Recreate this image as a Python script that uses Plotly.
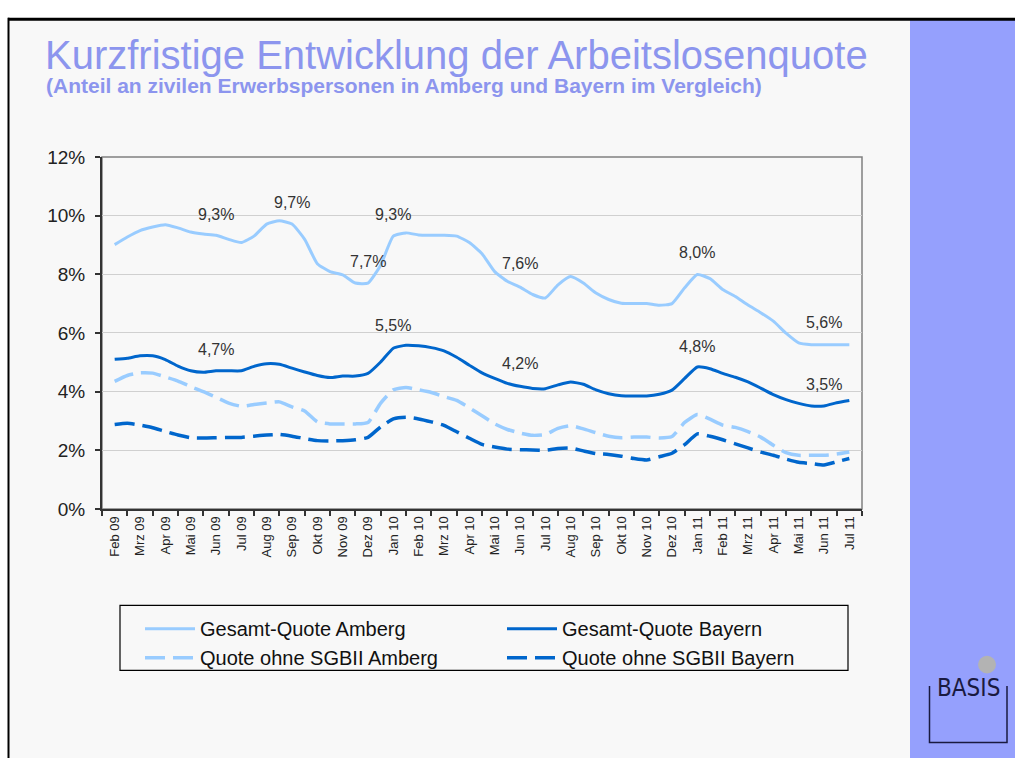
import plotly.graph_objects as go

# ---------------- data ----------------
months = ["Feb 09", "Mrz 09", "Apr 09", "Mai 09", "Jun 09", "Jul 09", "Aug 09", "Sep 09",
          "Okt 09", "Nov 09", "Dez 09", "Jan 10", "Feb 10", "Mrz 10", "Apr 10", "Mai 10",
          "Jun 10", "Jul 10", "Aug 10", "Sep 10", "Okt 10", "Nov 10", "Dez 10", "Jan 11",
          "Feb 11", "Mrz 11", "Apr 11", "Mai 11", "Jun 11", "Jul 11"]

# values at half-month steps (Feb 09 ... Jul 11)
gesamt_amberg = [9.01, 9.27, 9.49, 9.61, 9.69, 9.58, 9.44, 9.37, 9.33, 9.19, 9.08, 9.30, 9.71, 9.82, 9.71,
                 9.19, 8.36, 8.09, 7.98, 7.70, 7.70, 8.31, 9.30, 9.41, 9.34, 9.33, 9.33, 9.30, 9.08, 8.70,
                 8.09, 7.76, 7.56, 7.31, 7.19, 7.64, 7.92, 7.70, 7.36, 7.14, 7.01, 7.00, 7.00, 6.94, 7.00,
                 7.54, 7.99, 7.85, 7.48, 7.24, 6.95, 6.69, 6.40, 5.99, 5.66, 5.60, 5.60, 5.60, 5.60]
gesamt_bayern = [5.10, 5.14, 5.22, 5.22, 5.09, 4.87, 4.71, 4.66, 4.71, 4.71, 4.71, 4.86, 4.95, 4.93, 4.80,
                 4.67, 4.55, 4.48, 4.53, 4.53, 4.62, 5.01, 5.48, 5.58, 5.56, 5.50, 5.39, 5.17, 4.90, 4.64,
                 4.45, 4.28, 4.18, 4.11, 4.10, 4.23, 4.33, 4.25, 4.06, 3.93, 3.86, 3.85, 3.85, 3.91, 4.05,
                 4.45, 4.84, 4.78, 4.62, 4.49, 4.33, 4.12, 3.90, 3.73, 3.60, 3.51, 3.51, 3.62, 3.70]
ohne_amberg = [4.35, 4.55, 4.64, 4.63, 4.50, 4.36, 4.17, 4.00, 3.81, 3.61, 3.50, 3.56, 3.61, 3.65, 3.48,
               3.34, 2.97, 2.90, 2.90, 2.90, 2.95, 3.61, 4.06, 4.14, 4.06, 3.97, 3.83, 3.70, 3.45, 3.18,
               2.90, 2.71, 2.59, 2.51, 2.54, 2.75, 2.84, 2.73, 2.60, 2.48, 2.43, 2.45, 2.45, 2.42, 2.47,
               2.95, 3.22, 3.06, 2.86, 2.78, 2.64, 2.45, 2.17, 1.92, 1.83, 1.83, 1.83, 1.87, 1.94]
ohne_bayern = [2.88, 2.92, 2.86, 2.77, 2.64, 2.52, 2.43, 2.42, 2.43, 2.44, 2.44, 2.48, 2.52, 2.54, 2.48,
               2.40, 2.33, 2.32, 2.33, 2.36, 2.44, 2.80, 3.07, 3.13, 3.07, 2.97, 2.85, 2.63, 2.41, 2.20,
               2.11, 2.04, 2.02, 2.01, 2.00, 2.06, 2.08, 1.98, 1.89, 1.86, 1.80, 1.72, 1.67, 1.78, 1.90,
               2.19, 2.56, 2.48, 2.36, 2.22, 2.08, 1.94, 1.83, 1.70, 1.59, 1.55, 1.50, 1.61, 1.72]

label_amberg_months = ["Jun 09", "Sep 09", "Dez 09", "Jan 10", "Jun 10", "Jan 11", "Jun 11"]
label_amberg_values = [9.3, 9.7, 7.7, 9.3, 7.6, 8.0, 5.6]
label_bayern_months = ["Jun 09", "Jan 10", "Jun 10", "Jan 11", "Jun 11"]
label_bayern_values = [4.7, 5.5, 4.2, 4.8, 3.5]

series_names = ["Gesamt-Quote Amberg", "Gesamt-Quote Bayern",
                "Quote ohne SGBII Amberg", "Quote ohne SGBII Bayern"]

# ---------------- figure geometry (page pixels) ----------------
W, H = 1015, 769


def px(X):
    return X / W


def py(Y):
    return 1 - Y / H


xpos = [i * 0.5 for i in range(len(gesamt_amberg))]

LIGHT = "#99ccff"
DARK = "#0066cc"

fig = go.Figure()
styles = [
    (gesamt_amberg, LIGHT, "solid", 3),
    (gesamt_bayern, DARK, "solid", 3),
    (ohne_amberg, LIGHT, "20px,8px", 3.5),
    (ohne_bayern, DARK, "20px,8px", 3.5),
]
for name, (vals, col, dash, w) in zip(series_names, styles):
    fig.add_trace(go.Scatter(
        x=xpos, y=vals, mode="lines", name=name,
        line=dict(color=col, width=w, dash=dash, shape="spline", smoothing=0.5),
        hoverinfo="skip",
    ))


def fmt(v):
    return f"{v:.1f}".replace(".", ",") + "%"


annotations = []
for m, v in zip(label_amberg_months + label_bayern_months, label_amberg_values + label_bayern_values):
    annotations.append(dict(
        x=months.index(m), y=v, xref="x", yref="y", text=fmt(v), showarrow=False,
        yshift=22, xanchor="center", yanchor="middle",
        font=dict(family="Liberation Sans, Arial, sans-serif", size=16, color="#333333"),
    ))

TITLE_COL = "#8c95ee"
annotations.append(dict(
    x=px(43), y=py(46), xref="paper", yref="paper", xanchor="left", yanchor="middle",
    text="Kurzfristige Entwicklung der Arbeitslosenquote", showarrow=False,
    font=dict(family="Liberation Sans, Arial, sans-serif", size=40, color=TITLE_COL),
))
annotations.append(dict(
    x=px(44), y=py(78), xref="paper", yref="paper", xanchor="left", yanchor="middle",
    text="<b>(Anteil an zivilen Erwerbspersonen in Amberg und Bayern im Vergleich)</b>", showarrow=False,
    font=dict(family="Liberation Sans, Arial, sans-serif", size=21, color=TITLE_COL),
))
# logo text
annotations.append(dict(
    x=px(968), y=py(697), xref="paper", yref="paper", xanchor="center", yanchor="middle",
    text="BASIS", showarrow=False,
    font=dict(family="Liberation Sans Narrow, DejaVu Sans Condensed, sans-serif", size=24, color="#1a1a40"),
))

shapes = [
    # slide background
    dict(type="rect", xref="paper", yref="paper", x0=px(8), x1=1, y0=0, y1=py(9),
         fillcolor="#f8f8f8", line=dict(width=0), layer="below"),
    # right strip
    dict(type="rect", xref="paper", yref="paper", x0=px(910), x1=1, y0=0, y1=py(10),
         fillcolor="#95a0fd", line=dict(width=0), layer="below"),
    # slide border (top, left)
    dict(type="line", xref="paper", yref="paper", x0=px(8), x1=1, y0=py(9.5), y1=py(9.5),
         line=dict(color="black", width=3)),
    dict(type="line", xref="paper", yref="paper", x0=px(8.5), x1=px(8.5), y0=0, y1=py(8),
         line=dict(color="black", width=2)),
    # plot frame (top/right)
    dict(type="rect", xref="x domain", yref="y domain", x0=0, x1=1, y0=0, y1=1,
         line=dict(color="#808080", width=1.5), layer="below"),
    # legend box
    dict(type="rect", xref="paper", yref="paper", x0=px(120), x1=px(848), y0=py(679), y1=py(612),
         line=dict(color="black", width=1.2), fillcolor="rgba(0,0,0,0)"),
    # logo circle & frame
    dict(type="circle", xref="paper", yref="paper", x0=px(978), x1=px(996), y0=py(682), y1=py(664),
         fillcolor="#b3b3b3", line=dict(width=0)),
    dict(type="path", xref="paper", yref="paper",
         path=f"M {px(929.5)} {py(695)} L {px(929.5)} {py(753)} L {px(1007)} {py(753)} L {px(1007)} {py(695)}",
         line=dict(color="#1a1a40", width=1.5)),
]

fig.update_layout(
    width=W, height=H, autosize=False,
    margin=dict(l=0, r=0, t=0, b=0, pad=0),
    paper_bgcolor="#ffffff", plot_bgcolor="#f8f8f8",
    font=dict(family="Liberation Sans, Arial, sans-serif", color="#222222"),
    xaxis=dict(
        domain=[px(102), px(862)], range=[-0.5, len(months) - 0.5],
        tickmode="array", tickvals=list(range(len(months))), ticktext=months,
        tickangle=-90, tickfont=dict(size=13, color="#222222"),
        ticks="", showgrid=False, zeroline=False,
        showline=True, linecolor="#333333", linewidth=2,
        minor=dict(tickmode="array", tickvals=[i - 0.5 for i in range(len(months) + 1)],
                   ticks="outside", ticklen=5, tickwidth=1.5, tickcolor="#333333", showgrid=False),
    ),
    yaxis=dict(
        domain=[py(513), py(151)], range=[0, 12], dtick=2, tick0=0, ticksuffix="%",
        tickfont=dict(size=19, color="#222222"), ticklabelstandoff=6,
        ticks="outside", ticklen=5, tickwidth=1.5, tickcolor="#333333",
        showgrid=True, gridcolor="#d0d0d0", gridwidth=1.3, zeroline=False,
        showline=True, linecolor="#333333", linewidth=2,
    ),
    showlegend=True,
    legend=dict(
        orientation="h", x=px(140), y=py(616), xanchor="left", yanchor="top",
        xref="paper", yref="paper",
        entrywidth=297, entrywidthmode="pixels", itemwidth=50,
        font=dict(size=20, color="#111111"), bgcolor="rgba(0,0,0,0)", borderwidth=0,
        traceorder="normal",
    ),
    annotations=annotations,
    shapes=shapes,
)

fig.write_html("out.html",
               config={"displayModeBar": False},
               post_script="document.body.style.margin='0';document.body.style.overflow='hidden';")
